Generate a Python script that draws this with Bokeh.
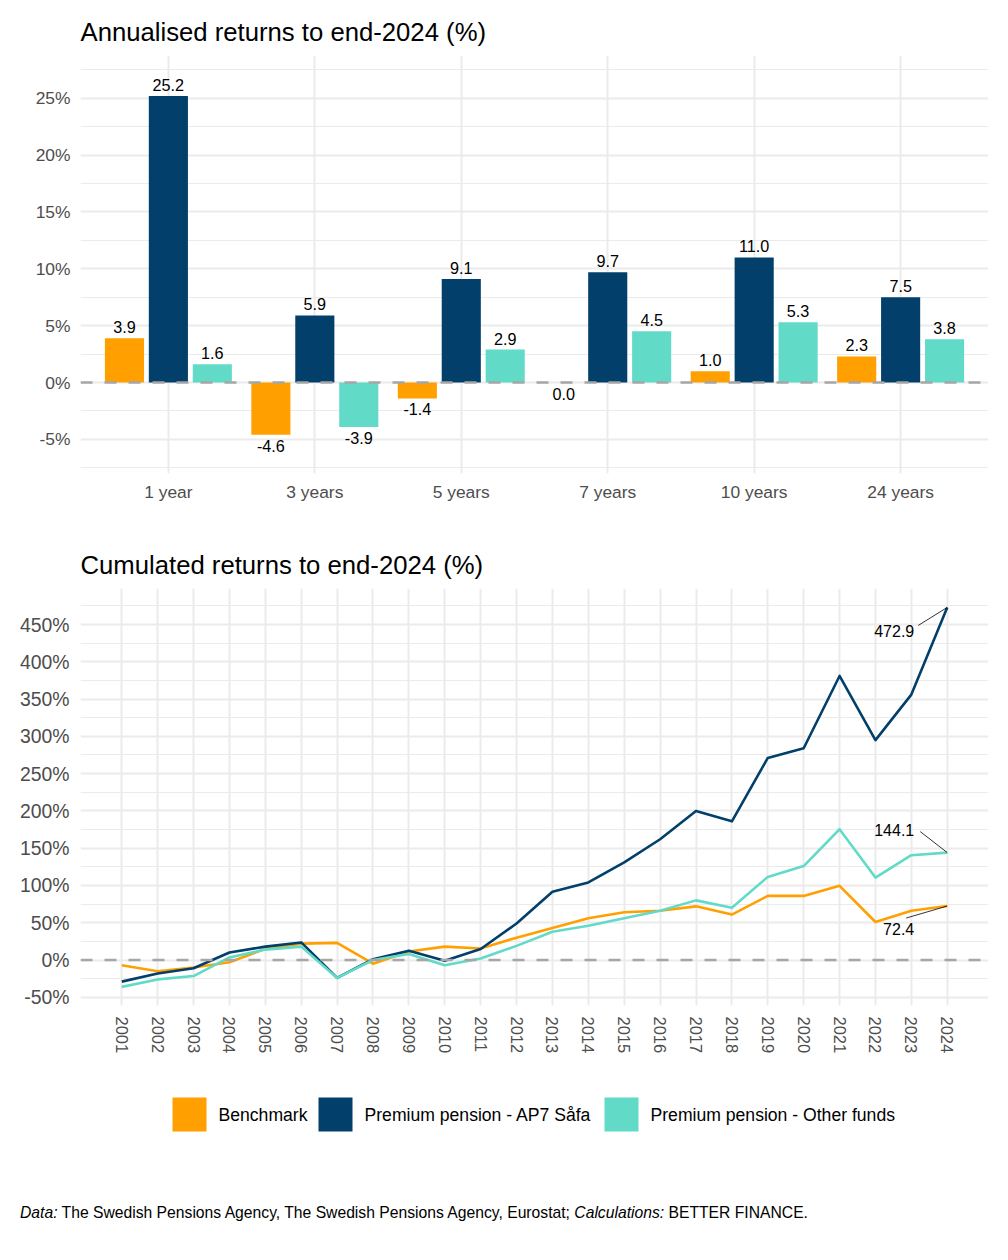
from bokeh.plotting import figure
from bokeh.models import (FactorRange, Range1d, FixedTicker, PrintfTickFormatter, Span,
                          ColumnDataSource, Div)
from bokeh.transform import dodge
from bokeh.layouts import column
from bokeh.embed import file_html
from bokeh.resources import INLINE
from bokeh.core.properties import value

# ---------------- data ----------------
periods = ["1 year", "3 years", "5 years", "7 years", "10 years", "24 years"]
series_names = ["Benchmark", "Premium pension - AP7 Såfa", "Premium pension - Other funds"]
annual_benchmark = [3.9, -4.6, -1.4, 0.0, 1.0, 2.3]
annual_ap7 = [25.2, 5.9, 9.1, 9.7, 11.0, 7.5]
annual_other = [1.6, -3.9, 2.9, 4.5, 5.3, 3.8]

years = list(range(2001, 2025))
cum_benchmark = [-7, -15, -10, -3, 15, 22, 23, -5, 11.5, 18, 15.5, 30, 43, 56, 64, 66,
                 72, 61, 86, 86, 99.5, 51, 66, 72.4]
cum_ap7 = [-29, -18, -11, 10, 18, 23.6, -24, 1, 12.4, -1, 14.7, 49, 91.5, 104, 131, 162,
           200, 186, 271, 284, 381, 295, 356, 472.9]
cum_other = [-36, -26, -21.5, 3.5, 14, 18, -24, 0, 8, -7, 2, 19, 38, 46, 56, 66,
             80, 70, 111.5, 126, 175.4, 110.6, 140.6, 144.1]

bar_ticks = [-5, 0, 5, 10, 15, 20, 25]
bar_minor = [-7.5, -2.5, 2.5, 7.5, 12.5, 17.5, 22.5, 27.5]
line_ticks = [-50, 0, 50, 100, 150, 200, 250, 300, 350, 400, 450]
line_minor = [-25, 25, 75, 125, 175, 225, 275, 325, 375, 425, 475]

# ---------------- style ----------------
COLORS = ["#FFA000", "#023F6A", "#62DAC8"]
FONT = "Liberation Sans"
GRID = "#EBEBEB"
TICK_COLOR = "#4D4D4D"
W = 1000
BL, BR = 80, 12


def style(p, title):
    p.title.text = title
    p.title.text_font = FONT
    p.title.text_font_size = "25.7px"
    p.title.text_font_style = "normal"
    p.title.text_color = "#000000"
    p.title.standoff = 20
    p.outline_line_color = None
    p.background_fill_color = "white"
    p.border_fill_color = "white"
    for ax in p.axis:
        ax.axis_line_color = None
        ax.major_tick_line_color = None
        ax.minor_tick_line_color = None
        ax.major_label_text_font = FONT
        ax.major_label_text_font_size = "17.4px"
        ax.major_label_text_color = TICK_COLOR
    p.xgrid.grid_line_color = GRID
    p.xgrid.grid_line_width = 2
    p.ygrid.grid_line_color = GRID
    p.ygrid.grid_line_width = 2
    p.ygrid.minor_grid_line_color = GRID
    p.ygrid.minor_grid_line_width = 1.2


# ---------------- bar chart ----------------
p1 = figure(x_range=FactorRange(factors=periods, range_padding=0.1, range_padding_units="absolute"),
            y_range=Range1d(-8.0, 28.76), width=W, height=530,
            output_backend="svg", toolbar_location=None, tools="")
p1.min_border_left = BL
p1.min_border_right = BR
p1.min_border_top = 55
p1.min_border_bottom = 57
style(p1, "Annualised returns to end-2024 (%)")
p1.yaxis.ticker = FixedTicker(ticks=bar_ticks, minor_ticks=bar_minor)
p1.yaxis.formatter = PrintfTickFormatter(format="%d%%")
p1.yaxis.major_label_standoff = 4
p1.xaxis.major_label_standoff = 2

offsets = [-0.3, 0.0, 0.3]
for vals, col, off in zip([annual_benchmark, annual_ap7, annual_other], COLORS, offsets):
    src = ColumnDataSource(dict(period=periods, val=vals))
    p1.vbar(x=dodge("period", off, range=p1.x_range), top="val", bottom=0, width=0.267,
            source=src, fill_color=col, line_color=None)
    pos = [(c, v) for c, v in zip(periods, vals) if v > 0]
    neg = [(c, v) for c, v in zip(periods, vals) if v <= 0]
    for items, base, yoff in [(pos, "bottom", -5), (neg, "top", 5)]:
        if not items:
            continue
        s = ColumnDataSource(dict(period=[i[0] for i in items], val=[i[1] for i in items],
                                  lab=["%.1f" % i[1] for i in items]))
        p1.text(x=dodge("period", off, range=p1.x_range), y="val", text="lab", source=s,
                text_align="center", text_baseline=base, y_offset=yoff,
                text_font=value(FONT), text_font_size=value("16.2px"), text_color="#000000")

p1.add_layout(Span(location=0, dimension="width", line_color="#A6A6A6", line_width=2.5,
                   line_dash="12 12"))

# ---------------- line chart ----------------
x0, x1 = 1999.85, 2025.15
y0, y1 = -61.0, 498.3
LINE_H = 545
p2 = figure(x_range=Range1d(x0, x1), y_range=Range1d(y0, y1), width=W, height=LINE_H,
            output_backend="svg", toolbar_location=None, tools="")
p2.min_border_left = BL
p2.min_border_right = BR
p2.min_border_top = 58
p2.min_border_bottom = 70
style(p2, "Cumulated returns to end-2024 (%)")
p2.yaxis.ticker = FixedTicker(ticks=line_ticks, minor_ticks=line_minor)
p2.yaxis.formatter = PrintfTickFormatter(format="%d%%")
p2.yaxis.major_label_standoff = 5
p2.yaxis.major_label_text_font_size = "19.4px"
p2.xaxis.ticker = FixedTicker(ticks=years, minor_ticks=[])
p2.xaxis.major_label_orientation = "vertical"
p2.xaxis.major_label_standoff = 5
p2.xaxis.major_label_text_font_size = "16.5px"

p2.add_layout(Span(location=0, dimension="width", line_color="#A6A6A6", line_width=2.5,
                   line_dash="12 12"))

for vals, col in zip([cum_benchmark, cum_ap7, cum_other], COLORS):
    p2.line(years, vals, line_color=col, line_width=2.6, line_join="round")

# end labels (ggrepel-like) with connectors; offsets in screen pixels
frame_w = W - BL - BR
frame_h = LINE_H - 58 - 70
px_x = frame_w / (x1 - x0)
px_y = frame_h / (y1 - y0)
end_series = [cum_ap7, cum_other, cum_benchmark]
text_off = [(-33, 24), (-33, -23), (-33, 23)]       # (dx right edge, dy centre), px, +down
seg_off = [(-29, 18), (-27, -21), (-41, 12)]
for vals, (tx, ty), (sx, sy) in zip(end_series, text_off, seg_off):
    xe, ye = years[-1], vals[-1]
    p2.segment(x0=[xe + sx / px_x], y0=[ye - sy / px_y], x1=[xe], y1=[ye],
               line_color="#000000", line_width=0.8)
    p2.text(x=[xe], y=[ye], text=["%.1f" % ye], x_offset=tx, y_offset=ty,
            text_align="right", text_baseline="middle",
            text_font=value(FONT), text_font_size=value("16px"), text_color="#000000")

# ---------------- legend ----------------
# the column aligns this frame with the chart frames (page x BL .. W-BR)
LH = 124
p3 = figure(x_range=Range1d(BL, W - BR), y_range=Range1d(LH, 0), width=W, height=LH,
            x_axis_location=None, y_axis_location=None,
            output_backend="svg", toolbar_location=None, tools="")
p3.min_border_left = BL
p3.min_border_right = BR
p3.min_border_top = 0
p3.min_border_bottom = 0
p3.grid.visible = False
p3.outline_line_color = None
legend_x = [172, 318, 604]
for name, col, lx in zip(series_names, COLORS, legend_x):
    p3.rect(x=[lx + 17], y=[39], width=34, height=34, fill_color=col, line_color=None)
    p3.text(x=[lx + 46], y=[39], text=[name], text_align="left", text_baseline="middle",
            text_font=value(FONT), text_font_size=value("17.6px"), text_color="#000000")

caption = Div(text="<i>Data:</i> The Swedish Pensions Agency, The Swedish Pensions Agency, "
                   "Eurostat; <i>Calculations:</i> BETTER FINANCE.",
              width=W, height=40,
              styles={"font-family": "'Liberation Sans', Arial, sans-serif",
                      "font-size": "15.7px", "color": "#000000", "padding-left": "15px",
                      "line-height": "18px"})

layout = column(p1, p2, p3, caption, spacing=0)
open("out.html", "w").write(file_html(layout, INLINE))
